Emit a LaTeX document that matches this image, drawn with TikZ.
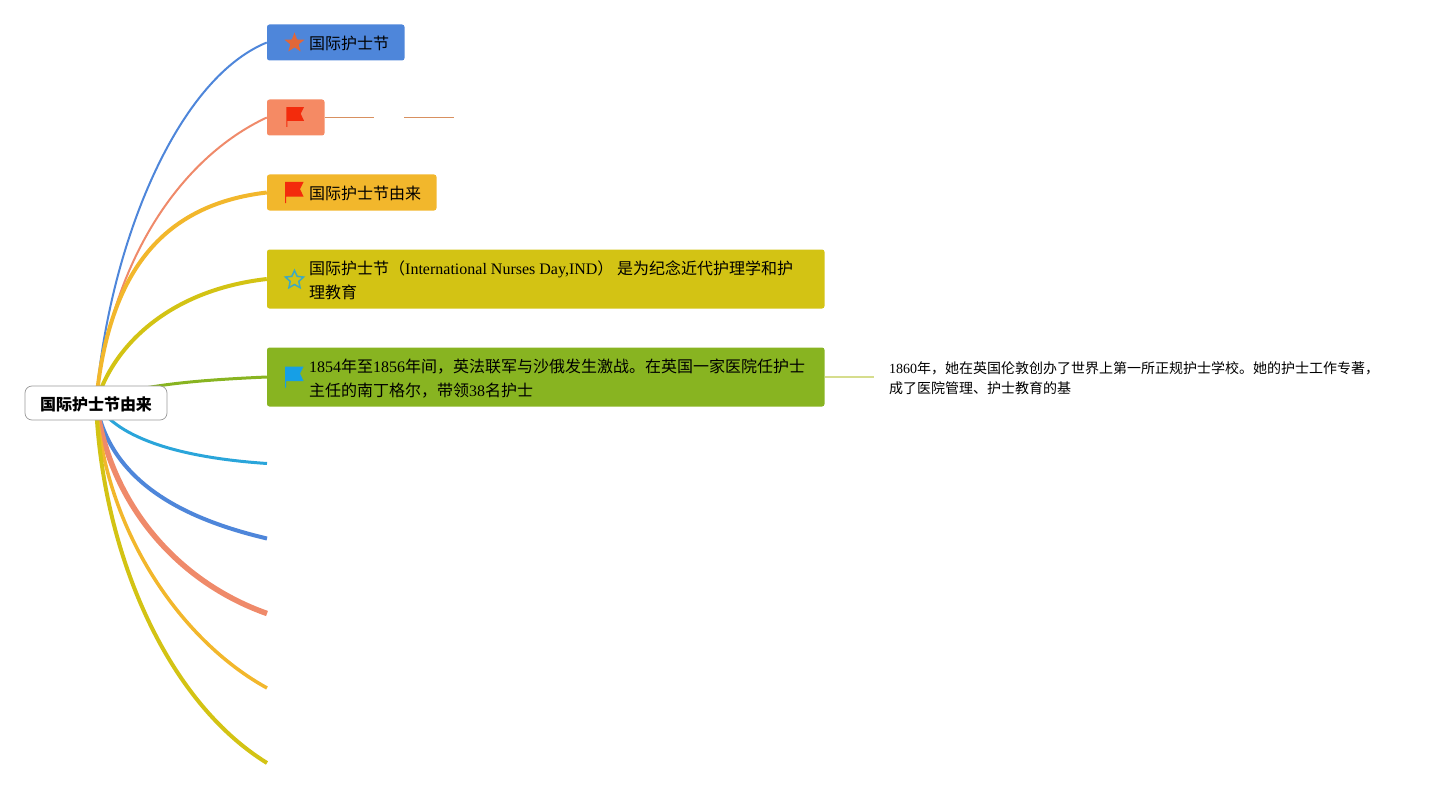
\documentclass[tikz,border=0pt]{standalone}
\usepackage{xcolor}
\usepackage{fontspec}
\setmainfont{Liberation Serif}
\newfontfamily\cjk{Noto Sans CJK SC}
\usetikzlibrary{positioning, shapes.geometric, backgrounds}
\definecolor{bluetopic}{HTML}{4E86DA}
\definecolor{salmontopic}{HTML}{F58A64}
\definecolor{goldtopic}{HTML}{F2B72C}
\definecolor{olivetopic}{HTML}{D3C314}
\definecolor{greentopic}{HTML}{88B421}
\definecolor{cyanline}{HTML}{2AA5DA}
\definecolor{salmonline}{HTML}{EF8A6A}
\definecolor{stubtan}{HTML}{D89060}
\definecolor{flagred}{HTML}{F32B0C}
\definecolor{flagblue}{HTML}{169FE6}
\definecolor{staronge}{HTML}{E0673A}
\definecolor{staroutline}{HTML}{3FA9C0}
\tikzset{
  rootbox/.style={draw=black!40, fill=white, rounded corners=7pt, line width=0.7pt,
    minimum width=142pt, minimum height=34pt, inner sep=0pt},
  roottext/.style={inner sep=0pt, font=\fontsize{16}{24}\selectfont\cjk\bfseries},
  topicbox/.style={rounded corners=2.5pt, inner sep=0pt, minimum height=36pt, anchor=west},
  topictext/.style={anchor=west, inner sep=0pt, align=left,
    font=\fontsize{16}{24}\selectfont},
  notetext/.style={anchor=west, inner sep=0pt, align=left,
    font=\fontsize{14}{20}\selectfont},
  flagicon/.pic={
    \fill[pic actions] (-9,-11) -- (9.5,-11) -- (6,-4) -- (9.5,3.5) -- (-8,3.5)
      -- (-8,10) -- (-9,10) -- cycle;
  },
}
\begin{document}
\begin{tikzpicture}[x=1pt, y=-1pt]
  \useasboundingbox (0,0) rectangle (1449,789);

  % Central topic
  \node[rootbox] (root) at (96,403) {};
  \node[roottext] (rootlabel) at (96,404) {国际护士节由来};

  % Topics with text
  \node[topicbox, fill=bluetopic, minimum width=137.5pt] (festival) at (266.8,42.5) {};
  \node[topicbox, fill=salmontopic, minimum width=57.5pt] (blank) at (266.8,117.5) {};
  \node[topicbox, fill=goldtopic, minimum width=169.5pt] (origin) at (266.8,192.5) {};
  \node[topicbox, fill=olivetopic, minimum width=557.5pt, minimum height=59pt] (intro) at (266.8,279) {};
  \node[topicbox, fill=greentopic, minimum width=557.5pt, minimum height=59pt] (war) at (266.8,377) {};

  % Labels
  \node[topictext] (festivaltext) at (309,43) {\cjk 国际护士节};
  \node[topictext] (origintext) at (309,193) {\cjk 国际护士节由来};
  \node[topictext] (introtext) at (309,280)
    {{\cjk 国际护士节（}International Nurses Day,IND{\cjk ） 是为纪念近代护理学和护}\\{\cjk 理教育}};
  \node[topictext] (wartext) at (309,379)
    {1854{\cjk 年至}1856{\cjk 年间，英法联军与沙俄发生激战。在英国一家医院任护士}\\{\cjk 主任的南丁格尔，带领}38{\cjk 名护士}};
  \node[notetext] (note) at (889,378.5)
    {1860{\cjk 年，她在英国伦敦创办了世界上第一所正规护士学校。她的护士工作专著，}\\{\cjk 成了医院管理、护士教育的基}};

  % Icons
  \node[star, star points=5, star point ratio=2.4, fill=staronge, minimum size=21pt, inner sep=0pt] (staricon) at (294.5,43) {};
  \node[star, star points=5, star point ratio=2.1, draw=staroutline, line width=1.5pt, minimum size=19pt, inner sep=0pt] (hollowstar) at (294.5,280) {};
  \pic[fill=flagred, scale=0.95] at (295,117.5) {flagicon};
  \pic[fill=flagred] at (294,193) {flagicon};
  \pic[fill=flagblue] at (294,377.5) {flagicon};

  % Free ends
  \coordinate (endsix) at (267,463.5);
  \coordinate (endseven) at (267,538.5);
  \coordinate (endeight) at (267,613.5);
  \coordinate (endnine) at (267,688);
  \coordinate (endten) at (267,763);
  \coordinate (stubaleft) at (374,117.5);
  \coordinate (stubbright) at (404,117.5);
  \coordinate (stubbleft) at (454,117.5);
  \coordinate (warstub) at (874,377);

  % Branches
  \begin{scope}[on background layer]
    \draw[bluetopic, line width=2pt] (root.center) .. controls (108,250) and (175,80) .. (festival.west);
    \draw[salmonline, line width=2pt] (root.center) .. controls (110,262) and (180,158) .. (blank.west);
    \draw[goldtopic, line width=4pt] (root.center) .. controls (108,275) and (160,205) .. (origin.west);
    \draw[olivetopic, line width=4pt] (root.center) .. controls (113,345) and (170,290) .. (intro.west);
    \draw[greentopic, line width=3pt] (root.center) .. controls (130,385) and (200,380) .. (war.west);
    \draw[cyanline, line width=3pt] (root.center) .. controls (118,440) and (185,458) .. (endsix);
    \draw[bluetopic, line width=4pt] (root.center) .. controls (110,480) and (180,518) .. (endseven);
    \draw[salmonline, line width=5.5pt] (root.center) .. controls (110,505) and (178,582) .. (endeight);
    \draw[goldtopic, line width=3.5pt] (root.center) .. controls (105,530) and (180,640) .. (endnine);
    \draw[olivetopic, line width=4pt] (root.center) .. controls (102,550) and (165,700) .. (endten);
  \end{scope}

  % Stubs
  \draw[stubtan, line width=1.2pt] (blank.east) -- (stubaleft);
  \draw[stubtan, line width=1.2pt] (stubbright) -- (stubbleft);
  \draw[olivetopic!50!greentopic!50!white, line width=1.5pt] (war.east) -- (warstub);
\end{tikzpicture}
\end{document}
